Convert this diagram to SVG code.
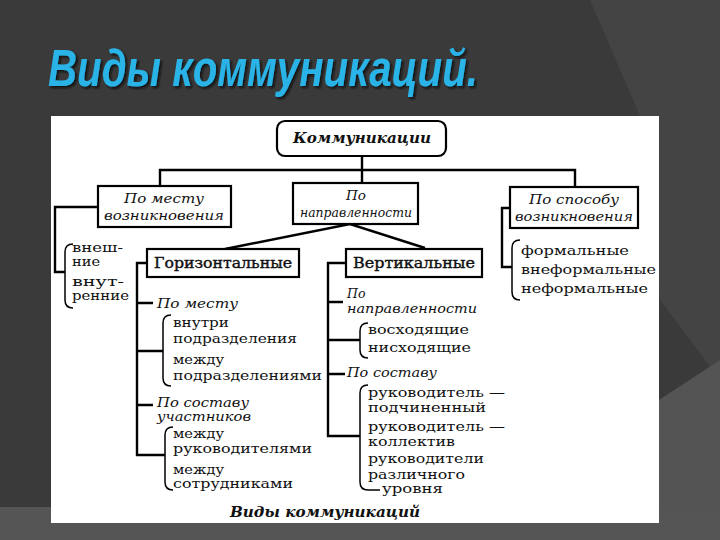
<svg xmlns="http://www.w3.org/2000/svg" width="720" height="540" viewBox="0 0 720 540">
<defs>
<filter id="shadow" x="-5%" y="-20%" width="110%" height="150%">
<feDropShadow dx="2" dy="2" stdDeviation="0.8" flood-color="#111" flood-opacity="0.9"/>
</filter>
</defs>
<style>
.box{fill:#fff;stroke:#000;stroke-width:2.2}
.ln{fill:none;stroke:#000;stroke-width:2.4}
.br{fill:none;stroke:#000;stroke-width:1.5}
.it{font-family:"DejaVu Serif","Liberation Serif",serif;font-style:italic;font-size:13.5px;fill:#111}
.rg{font-family:"DejaVu Serif","Liberation Serif",serif;font-size:13.5px;fill:#111}
.sm{font-size:12.5px}
.hd{font-family:"DejaVu Serif","Liberation Serif",serif;font-size:14px;fill:#111;stroke:#111;stroke-width:0.4}
.bi{font-family:"DejaVu Serif","Liberation Serif",serif;font-style:italic;font-weight:bold;font-size:14px;fill:#111}
.c{text-anchor:middle}
.ttl{font-family:"Liberation Sans",Arial,sans-serif;font-weight:bold;font-style:italic;font-size:52px;fill:#2ab3e6}
</style>
<g id="background">
<rect width="720" height="540" fill="#3a3a3a"/>
<path d="M590,0 L720,0 L720,380 L660,300 L640,116 Z" fill="#444"/>
<path d="M659,400 L720,360 L720,540 L659,540 Z" fill="#545454"/>
<rect x="0" y="507" width="720" height="33" fill="#555"/>
</g>
<text id="title" class="ttl" x="48" y="86" filter="url(#shadow)" textLength="430" lengthAdjust="spacingAndGlyphs">Виды коммуникаций.</text>
<rect id="panel" x="51" y="116" width="608" height="407" fill="#fff"/>

<g id="connectors">
<path class="ln" d="M362,156 V183"/>
<path class="ln" d="M160,186 V170 H575 V187"/>
<path class="ln" d="M98,207 H55 V272 H65"/>
<path class="ln" d="M510,208 H502 V267 H512"/>
<path class="ln" d="M225,249 L350,224 L425,248"/>
<path class="ln" d="M147,263 H137 V455 H165 M137,303 H153 M137,351 H163 M137,405 H153"/>
<path class="ln" d="M346,263 H328 V436 H360 M328,302 H343 M328,340 H360 M328,374 H345"/>
<path class="br" d="M73,244 Q65,244 65,252 V300 Q65,308 73,308"/>
<path class="br" d="M171,315 Q163,315 163,323 V378 Q163,386 171,386"/>
<path class="br" d="M173,427 Q165,427 165,435 V482 Q165,490 173,490"/>
<path class="br" d="M368,323 Q360,323 360,331 V350 Q360,358 368,358"/>
<path class="br" d="M368,385 Q360,385 360,393 V482 Q360,490 368,490 H380"/>
<path class="br" d="M520,240 Q512,240 512,248 V292 Q512,300 520,300"/>
</g>

<g id="root">
<rect class="box" x="277" y="121" width="169" height="35" rx="8"/>
<text class="bi c" x="362" y="143" textLength="138" lengthAdjust="spacingAndGlyphs">Коммуникации</text>
</g>
<g id="by-place">
<rect class="box" x="98" y="186" width="133" height="41"/>
<text class="it c" x="164" y="203" textLength="80" lengthAdjust="spacingAndGlyphs">По месту</text>
<text class="it c" x="164" y="220" textLength="120" lengthAdjust="spacingAndGlyphs">возникновения</text>
</g>
<g id="by-direction">
<rect class="box" x="293" y="183" width="125" height="41"/>
<text class="it c" x="356" y="200">По</text>
<text class="it c" x="356" y="217" textLength="112" lengthAdjust="spacingAndGlyphs">направленности</text>
</g>
<g id="by-origin">
<rect class="box" x="510" y="187" width="128" height="41"/>
<text class="it c" x="574" y="204" textLength="90" lengthAdjust="spacingAndGlyphs">По способу</text>
<text class="it c" x="574" y="221" textLength="118" lengthAdjust="spacingAndGlyphs">возникновения</text>
</g>
<g id="ext-int">
<text class="rg sm" x="72" y="252" textLength="51" lengthAdjust="spacingAndGlyphs">внеш-</text>
<text class="rg sm" x="72" y="266" textLength="28" lengthAdjust="spacingAndGlyphs">ние</text>
<text class="rg sm" x="72" y="286" textLength="52" lengthAdjust="spacingAndGlyphs">внут-</text>
<text class="rg sm" x="72" y="300" textLength="57" lengthAdjust="spacingAndGlyphs">ренние</text>
</g>
<g id="horizontal">
<rect class="box" x="147" y="249" width="152" height="28"/>
<text class="hd c" x="223" y="268" textLength="138" lengthAdjust="spacingAndGlyphs">Горизонтальные</text>
</g>
<g id="vertical">
<rect class="box" x="346" y="249" width="136" height="28"/>
<text class="hd c" x="414" y="268" textLength="122" lengthAdjust="spacingAndGlyphs">Вертикальные</text>
</g>
<g id="h-place">
<text class="it" x="157" y="308" textLength="81" lengthAdjust="spacingAndGlyphs">По месту</text>
<text class="rg" x="173" y="327" textLength="56" lengthAdjust="spacingAndGlyphs">внутри</text>
<text class="rg" x="173" y="343" textLength="124" lengthAdjust="spacingAndGlyphs">подразделения</text>
<text class="rg" x="173" y="364" textLength="51" lengthAdjust="spacingAndGlyphs">между</text>
<text class="rg" x="173" y="380" textLength="149" lengthAdjust="spacingAndGlyphs">подразделениями</text>
</g>
<g id="h-members">
<text class="it sm" x="157" y="407" textLength="92" lengthAdjust="spacingAndGlyphs">По составу</text>
<text class="it sm" x="157" y="421" textLength="94" lengthAdjust="spacingAndGlyphs">участников</text>
<text class="rg" x="173" y="438" textLength="51" lengthAdjust="spacingAndGlyphs">между</text>
<text class="rg" x="173" y="453" textLength="139" lengthAdjust="spacingAndGlyphs">руководителями</text>
<text class="rg sm" x="173" y="474" textLength="51" lengthAdjust="spacingAndGlyphs">между</text>
<text class="rg sm" x="173" y="488" textLength="120" lengthAdjust="spacingAndGlyphs">сотрудниками</text>
</g>
<g id="v-direction">
<text class="it sm" x="347" y="298">По</text>
<text class="it sm" x="347" y="313" textLength="130" lengthAdjust="spacingAndGlyphs">направленности</text>
<text class="rg" x="368" y="334" textLength="101" lengthAdjust="spacingAndGlyphs">восходящие</text>
<text class="rg" x="368" y="352" textLength="103" lengthAdjust="spacingAndGlyphs">нисходящие</text>
</g>
<g id="v-members">
<text class="it" x="347" y="377" textLength="90" lengthAdjust="spacingAndGlyphs">По составу</text>
<text class="rg" x="368" y="397" textLength="137" lengthAdjust="spacingAndGlyphs">руководитель —</text>
<text class="rg" x="368" y="412" textLength="118" lengthAdjust="spacingAndGlyphs">подчиненный</text>
<text class="rg sm" x="368" y="431" textLength="137" lengthAdjust="spacingAndGlyphs">руководитель —</text>
<text class="rg sm" x="368" y="446" textLength="87" lengthAdjust="spacingAndGlyphs">коллектив</text>
<text class="rg" x="368" y="463" textLength="116" lengthAdjust="spacingAndGlyphs">руководители</text>
<text class="rg sm" x="368" y="479" textLength="97" lengthAdjust="spacingAndGlyphs">различного</text>
<text class="rg sm" x="382" y="493" textLength="61" lengthAdjust="spacingAndGlyphs">уровня</text>
</g>
<g id="formality">
<text class="rg" x="521" y="255" textLength="108" lengthAdjust="spacingAndGlyphs">формальные</text>
<text class="rg" x="521" y="274" textLength="135" lengthAdjust="spacingAndGlyphs">внеформальные</text>
<text class="rg" x="521" y="293" textLength="127" lengthAdjust="spacingAndGlyphs">неформальные</text>
</g>
<text id="caption" class="bi c" x="325" y="517" font-size="16" textLength="190" lengthAdjust="spacingAndGlyphs">Виды коммуникаций</text>
</svg>
